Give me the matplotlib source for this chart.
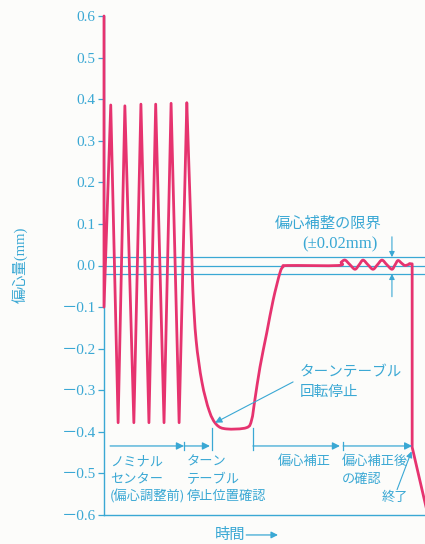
import numpy as np
import matplotlib
matplotlib.use("Agg")
import matplotlib.pyplot as plt
from matplotlib.path import Path
from matplotlib.patches import PathPatch

BLUE = "#3aa8d4"
RED = "#e6336f"
JP = ["Noto Sans CJK JP", "DejaVu Sans"]
SERIF_JP = ["Liberation Serif", "Noto Sans CJK JP"]

# oscillation while the table turns (nominal centre)
zig_t = [0, 0, 2.1, 4.4, 6.5, 9.3, 11.5, 14.0, 16.1, 18.7, 20.9, 23.4, 25.8]
zig_v = [0.6, -0.1, 0.386, -0.378, 0.384, -0.378, 0.388, -0.378, 0.388, -0.378, 0.39, -0.378, 0.391]

# table stop, correction and check
curve_t = [25.8, 27.3, 27.7, 28.7, 30.5, 32.8, 35.1, 38.2, 44.4, 46.0, 47.0, 48.6, 50.7,
           52.7, 54.8, 55.8, 57.3, 72.9, 73.9, 75.1, 76.6, 78.2, 79.5, 80.7, 82.2, 83.8,
           85.2, 86.6, 88.1, 89.7, 90.7, 91.6, 92.8, 93.8, 95.3]
curve_v = [0.391, 0.04, -0.06, -0.18, -0.28, -0.35, -0.383, -0.393, -0.39, -0.371, -0.323,
           -0.244, -0.162, -0.083, -0.018, -0.003, 0.0, 0.0, 0.008, 0.013, 0.002, -0.009,
           0.002, 0.013, 0.002, -0.009, 0.002, 0.013, 0.002, -0.009, 0.002, 0.012, 0.005,
           0.0, 0.004]

# end
end_t = [95.3, 96.0, 96.0, 100.0, 101.5]
end_v = [0.004, 0.004, -0.437, -0.57, -0.62]

limits = [-0.02, 0.0, 0.02]
yticks = [0.6, 0.5, 0.4, 0.3, 0.2, 0.1, 0.0, -0.1, -0.2, -0.3, -0.4, -0.5, -0.6]

phase_arrows = [(1.9, 24.9), (24.9, 33.0), (46.4, 73.5), (74.5, 96.0)]
phase_ticks = [(24.9, -0.425), (33.6, -0.39), (46.4, -0.39), (74.5, -0.425)]
phase_y = -0.434


def smooth_path(xs, ys):
    pts = np.column_stack([xs, ys])
    verts = [pts[0]]
    codes = [Path.MOVETO]
    n = len(pts)
    for i in range(n - 1):
        p0 = pts[max(i - 1, 0)]
        p1 = pts[i]
        p2 = pts[i + 1]
        p3 = pts[min(i + 2, n - 1)]
        verts += [p1 + (p2 - p0) / 6, p2 - (p3 - p1) / 6, p2]
        codes += [Path.CURVE4] * 3
    return Path(verts, codes)


fig = plt.figure(figsize=(4.25, 5.44), dpi=100, facecolor="#fcfcfa")
ax = fig.add_axes([104 / 425, 29 / 544, 321 / 425, 499 / 544])
ax.set_facecolor("#fcfcfa")
ax.set_xlim(0, 100)
ax.set_ylim(-0.6, 0.6)

for v in limits:
    ax.axhline(v, color=BLUE, lw=0.9, zorder=1)

ax.plot(zig_t, zig_v, color=RED, lw=2.0, solid_joinstyle="round",
        solid_capstyle="round", zorder=3, clip_on=False)
ax.add_patch(PathPatch(smooth_path(curve_t, curve_v), fill=False, edgecolor=RED,
                       lw=2.0, capstyle="round", joinstyle="round", zorder=3))
ax.plot(end_t, end_v, color=RED, lw=2.0, solid_joinstyle="round", zorder=3)

for s, e in phase_arrows:
    ax.annotate("", xy=(e, phase_y), xytext=(s, phase_y),
                arrowprops=dict(arrowstyle="-|>", color=BLUE, lw=0.9,
                                mutation_scale=11, shrinkA=0, shrinkB=0))
for t, top in phase_ticks:
    ax.plot([t, t], [top, -0.443], color=BLUE, lw=0.9)

# limit bracket
ax.annotate("", xy=(89.7, 0.02), xytext=(89.7, 0.069),
            arrowprops=dict(arrowstyle="-|>", color=BLUE, lw=0.8,
                            mutation_scale=8, shrinkA=0, shrinkB=0))
ax.annotate("", xy=(89.7, -0.02), xytext=(89.7, -0.075),
            arrowprops=dict(arrowstyle="-|>", color=BLUE, lw=0.8,
                            mutation_scale=8, shrinkA=0, shrinkB=0))
ax.text(69.8, 0.102, "偏心補整の限界", color=BLUE, fontsize=11, family=JP,
        ha="center", va="center")
ax.text(73.5, 0.05, "(±0.02mm)", color=BLUE, fontsize=12, family=SERIF_JP,
        ha="center", va="center")

ax.annotate("", xy=(34.6, -0.378), xytext=(58.9, -0.28),
            arrowprops=dict(arrowstyle="-|>", color=BLUE, lw=0.8,
                            mutation_scale=10, shrinkA=0, shrinkB=0))
ax.text(61.1, -0.257, "ターンテーブル", color=BLUE, fontsize=10.5, family=JP,
        ha="left", va="center")
ax.text(61.1, -0.305, "回転停止", color=BLUE, fontsize=10.5, family=JP,
        ha="left", va="center")

ax.annotate("", xy=(95.8, -0.447), xytext=(91.3, -0.539),
            arrowprops=dict(arrowstyle="-|>", color=BLUE, lw=0.8,
                            mutation_scale=9, shrinkA=0, shrinkB=0))
ax.text(86.6, -0.559, "終了", color=BLUE, fontsize=9.5, family=JP,
        ha="left", va="center")

rows = [-0.472, -0.515, -0.556]
labels = [
    (1.9, ["ノミナル", "センター", "(偏心調整前)"]),
    (25.9, ["ターン", "テーブル", "停止位置確認"]),
    (54.2, ["偏心補正"]),
    (74.1, ["偏心補正後", "の確認"]),
]
for t, lines in labels:
    for r, s in zip(rows, lines):
        ax.text(t, r, s, color=BLUE, fontsize=9.5, family=JP, ha="left", va="center")

ax.text(34.6, -0.648, "時間", color=BLUE, fontsize=11, family=JP,
        ha="left", va="center", clip_on=False)
ax.annotate("", xy=(54.2, -0.648), xytext=(44.3, -0.648), annotation_clip=False,
            arrowprops=dict(arrowstyle="-|>", color=BLUE, lw=0.9,
                            mutation_scale=10, shrinkA=0, shrinkB=0))

fig.text(20 / 425, 1 - 265 / 544, "偏心量(mm)", color=BLUE, fontsize=10.5,
         family=SERIF_JP, rotation=90, ha="center", va="center")

ax.set_yticks(yticks)
ax.set_yticklabels([("－" if v < 0 else "") + f"{abs(v):.1f}" for v in yticks],
                   family=SERIF_JP, fontsize=11)
ax.set_xticks([])
ax.tick_params(axis="y", direction="out", length=4, width=0.9, color=BLUE,
               labelcolor=BLUE, pad=2)
for side in ["top", "right"]:
    ax.spines[side].set_visible(False)
for side in ["left", "bottom"]:
    ax.spines[side].set_color(BLUE)
    ax.spines[side].set_linewidth(1.0)

fig.savefig("out.png", dpi=100, facecolor=fig.get_facecolor())
